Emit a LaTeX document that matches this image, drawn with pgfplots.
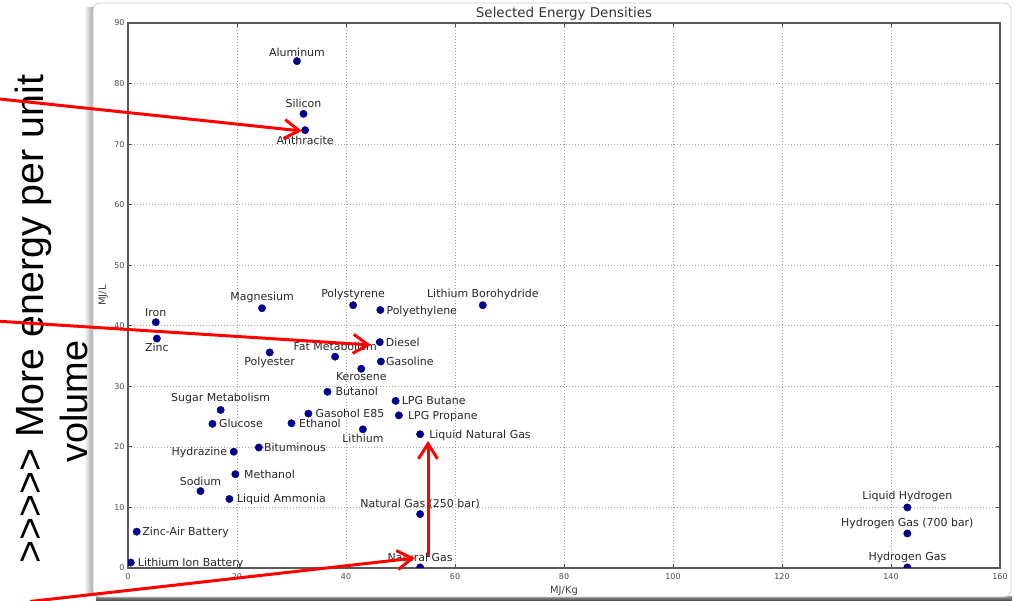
\documentclass[border=0pt]{standalone}
\usepackage{fontspec}
\setmainfont{DejaVu Sans}
\newfontfamily\arialfont{Liberation Sans}
\usepackage{pgfplots}
\pgfplotsset{compat=1.18}
\usetikzlibrary{arrows.meta}

\definecolor{dotblue}{RGB}{0,0,140}
\definecolor{annred}{RGB}{255,0,0}
\definecolor{labelc}{RGB}{40,40,40}

\begin{document}
\begin{tikzpicture}
\useasboundingbox (0,0) rectangle (1015bp,601bp);

% figure frame
\begin{scope}[x=1bp,y=-1bp,yshift=601bp]
  \shade[left color=white, right color=black!35] (84,8) rectangle (93,596);
  \shade[top color=black!45, bottom color=black!75] (96,597) rectangle (1012,601);
  \draw[black!20, line width=0.8bp, fill=white, rounded corners=7bp] (93,3) rectangle (1011,597);
  \node[rotate=90, anchor=base west, inner sep=0pt, font=\arialfont\fontsize{39.5}{45}\selectfont]
    at (43,564) {>>>>> More energy per unit};
  \node[rotate=90, anchor=base west, inner sep=0pt, font=\arialfont\fontsize{38}{44}\selectfont]
    at (87,463) {volume};
\end{scope}

\begin{axis}[
    at={(128bp,33bp)}, anchor=south west,
    width=872bp, height=545bp, scale only axis,
    xmin=0, xmax=160, ymin=0, ymax=90,
    xtick={0,20,...,160}, ytick={0,10,...,90},
    tick align=inside,
    major tick length=4bp,
    every tick/.style={black!70, line width=0.8bp},
    axis line style={black!65, line width=1.3bp},
    grid=major,
    major grid style={black!35, line width=0.6bp, dash pattern=on 1bp off 2bp},
    ticklabel style={font=\fontsize{8}{9}\selectfont, text=black!70},
    xticklabel style={yshift=-2bp},
    /pgf/number format/assume math mode=true,
    title={Selected Energy Densities},
    title style={at={(axis description cs:0.5,1)}, anchor=base, yshift=0bp,
                 inner sep=0pt, font=\fontsize{13.5}{15}\selectfont, text=black!80},
    xlabel={MJ/Kg},
    xlabel style={at={(axis description cs:0.5,0)}, anchor=north, yshift=-18bp,
                  inner sep=0pt, font=\fontsize{10}{12}\selectfont, text=black!75},
    ylabel={MJ/L},
    ylabel style={at={(axis description cs:0,0.5)}, anchor=south, yshift=20bp,
                  inner sep=0pt, font=\fontsize{10}{12}\selectfont, text=black!75},
    clip marker paths=true,
]
% x = MJ/Kg, y = MJ/L; label anchor, left/right padding and raise (bp)
\addplot[only marks, mark=*, mark size=3.7bp, draw=dotblue, fill=dotblue,
    point meta=explicit symbolic,
    visualization depends on={value \thisrow{anc}\as\anc},
    visualization depends on={value \thisrow{pl}\as\padl},
    visualization depends on={value \thisrow{pr}\as\padr},
    visualization depends on={value \thisrow{dy}\as\rise},
    nodes near coords={\hspace*{\padl bp}\raisebox{\rise bp}{\pgfplotspointmeta}\hspace*{\padr bp}},
    nodes near coords style={anchor=\anc, inner sep=0pt,
        font=\fontsize{11}{13}\selectfont, text=labelc},
] table[x=x, y=y, meta=label] {
x y label anc pl pr dy
31.0 83.7 Aluminum base 0 0 5
32.2 75.0 Silicon base 0 0 6
32.5 72.3 Anthracite base 0 0 -14
24.6 42.9 Magnesium base 0 0 7.5
41.3 43.4 Polystyrene base 0 0 7.5
46.3 42.6 Polyethylene {base west} 6 0 -4
65.1 43.4 {Lithium Borohydride} base 0 0 7.5
5.1 40.6 Iron base 0 0 5.5
5.3 37.9 Zinc base 0 0 -13
26.0 35.6 Polyester base 0 0 -13
38.0 34.9 {Fat Metabolism} base 0 0 6
46.2 37.3 Diesel {base west} 6 0 -4
46.4 34.1 Gasoline {base west} 5 0 -4
42.8 32.9 Kerosene base 0 0 -12
36.6 29.1 Butanol {base west} 8 0 -4
49.1 27.6 {LPG Butane} {base west} 6 0 -4
49.7 25.2 {LPG Propane} {base west} 9 0 -4
17.0 26.1 {Sugar Metabolism} base 0 0 8
15.5 23.8 Glucose {base west} 6.5 0 -4
33.1 25.5 {Gasohol E85} {base west} 7 0 -4
30.0 23.9 Ethanol {base west} 7.5 0 -4
43.1 22.9 Lithium base 0 0 -13
53.6 22.1 {Liquid Natural Gas} {base west} 9 0 -4
19.4 19.2 Hydrazine {base east} 0 6.5 -3.5
24.0 19.9 Bituminous {base west} 5 0 -4
19.7 15.5 Methanol {base west} 8.5 0 -4
13.3 12.7 Sodium base 0 0 6
18.6 11.4 {Liquid Ammonia} {base west} 7.5 0 -4
53.6 8.9 {Natural Gas (250 bar)} base 0 0 7
1.6 6.0 {Zinc-Air Battery} {base west} 5.5 0 -4
0.5 0.9 {Lithium Ion Battery} {base west} 7 0 -4
53.6 0.1 {Natural Gas} base 0 0 5.5
143.0 10.0 {Liquid Hydrogen} base 0 0 8
143.0 5.7 {Hydrogen Gas (700 bar)} base 0 0 7
143.0 0.1 {Hydrogen Gas} base 0 0 7
};
\end{axis}

% red annotation arrows
\begin{scope}[x=1bp,y=-1bp,yshift=601bp, annred, line width=3bp,
    -{Straight Barb[length=15bp, width=19bp, line width=3bp]}]
  \draw (-5,98.5) -- (302,131);
  \draw (-5,321) -- (371,345);
  \draw (30,601.5) -- (415,558);
  \draw (428,557) -- (428,441);
\end{scope}
\end{tikzpicture}
\end{document}
